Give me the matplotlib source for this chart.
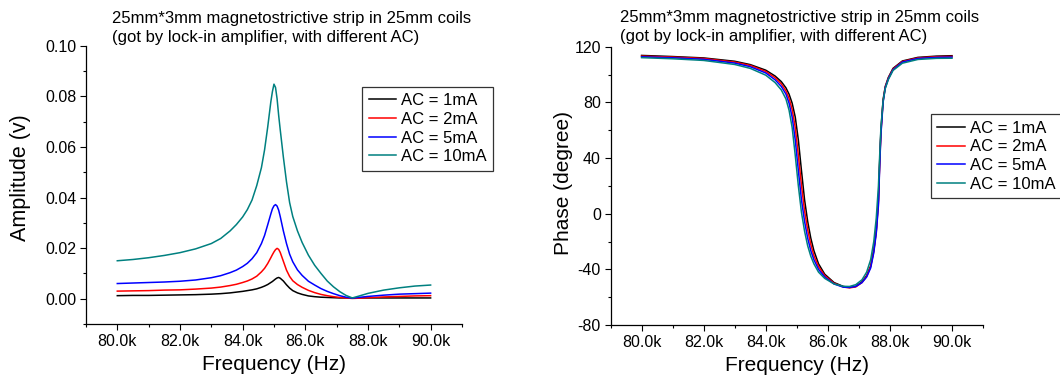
import numpy as np
import matplotlib
matplotlib.use("Agg")
import matplotlib.pyplot as plt
from matplotlib.ticker import MultipleLocator, FuncFormatter

plt.rcParams['font.family'] = ['Liberation Sans', 'DejaVu Sans']

# frequency in kHz
amp_freq = [80.0, 80.5, 81.0, 81.5, 82.0, 82.5, 83.0, 83.3, 83.6, 83.8, 84.0, 84.15,
            84.3, 84.45, 84.6, 84.7, 84.8, 84.9, 84.95, 85.0, 85.05, 85.1, 85.15,
            85.2, 85.3, 85.4, 85.5, 85.6, 85.75, 85.9, 86.1, 86.3, 86.5, 86.7,
            86.9, 87.1, 87.3, 87.5, 87.7, 88.0, 88.5, 89.0, 89.5, 90.0]

amp_1mA = [0.0012, 0.0013, 0.0013, 0.0014, 0.0015, 0.0016, 0.0018, 0.0020, 0.0023,
           0.0026, 0.0029, 0.0032, 0.0035, 0.0039, 0.0045, 0.0050, 0.0056, 0.0064,
           0.0068, 0.0073, 0.0078, 0.0082, 0.0084, 0.0081, 0.0070, 0.0055, 0.0042,
           0.0032, 0.0023, 0.0017, 0.0011, 0.0008, 0.0006, 0.0005, 0.0004, 0.0003,
           0.0003, 0.0003, 0.0003, 0.0003, 0.0003, 0.0003, 0.0003, 0.0003]
amp_2mA = [0.0030, 0.0031, 0.0032, 0.0034, 0.0035, 0.0038, 0.0042, 0.0046, 0.0052,
           0.0057, 0.0064, 0.0070, 0.0078, 0.0089, 0.0106, 0.0120, 0.0139, 0.0162,
           0.0174, 0.0185, 0.0194, 0.0199, 0.0195, 0.0183, 0.0148, 0.0113, 0.0088,
           0.0071, 0.0056, 0.0045, 0.0033, 0.0024, 0.0017, 0.0012, 0.0008, 0.0005,
           0.0003, 0.0001, 0.0002, 0.0004, 0.0007, 0.0009, 0.0011, 0.0012]
amp_5mA = [0.0060, 0.0062, 0.0064, 0.0066, 0.0069, 0.0074, 0.0083, 0.0091, 0.0103,
           0.0113, 0.0127, 0.0140, 0.0158, 0.0182, 0.0218, 0.0250, 0.0292, 0.0335,
           0.0355, 0.0367, 0.0372, 0.0366, 0.0350, 0.0325, 0.0268, 0.0218, 0.0176,
           0.0146, 0.0114, 0.0092, 0.0069, 0.0054, 0.0040, 0.0029, 0.0020, 0.0012,
           0.0006, 0.0002, 0.0005, 0.0009, 0.0014, 0.0018, 0.0020, 0.0022]
amp_10mA = [0.0150, 0.0155, 0.0162, 0.0171, 0.0182, 0.0197, 0.0218, 0.0238, 0.0268,
            0.0293, 0.0323, 0.0352, 0.0390, 0.0447, 0.0518, 0.0588, 0.0678, 0.0778,
            0.0818, 0.0848, 0.0835, 0.0790, 0.0725, 0.0668, 0.0560, 0.0462, 0.0380,
            0.0325, 0.0268, 0.0222, 0.0172, 0.0132, 0.0100, 0.0070, 0.0047, 0.0028,
            0.0013, 0.0003, 0.0010, 0.0021, 0.0034, 0.0043, 0.0050, 0.0054]

phase_freq = [80.0, 81.0, 82.0, 83.0, 83.5, 84.0, 84.3, 84.5, 84.65, 84.75, 84.85, 84.95,
              85.05, 85.15, 85.25, 85.35, 85.45, 85.55, 85.7, 85.9, 86.2, 86.5, 86.7,
              86.9, 87.1, 87.25, 87.38, 87.48, 87.56, 87.63, 87.67, 87.71, 87.78,
              87.85, 87.95, 88.1, 88.4, 88.9, 89.5, 90.0]

phase_1mA = [113.8, 113.0, 112.0, 109.6, 107.2, 103.2, 99.0, 95.0, 90.5, 86.0, 79.5, 69.5,
             53.0, 31.0, 10.0, -5.5, -17.5, -26.5, -36.0, -43.5, -49.5, -52.3, -53.0,
             -52.2, -49.0, -44.5, -37.5, -26.0, -12.0, 10.0, 38.0, 60.0, 82.0, 91.5,
             98.0, 104.5, 109.8, 112.4, 113.3, 113.6]
phase_2mA = [113.3, 112.6, 111.6, 109.0, 106.6, 102.3, 97.8, 93.4, 88.3, 83.0, 75.0, 62.0,
             42.0, 20.5, 2.0, -11.5, -22.0, -30.0, -38.0, -44.5, -50.0, -52.7, -53.3,
             -52.6, -49.5, -45.0, -38.0, -27.0, -13.0, 8.0, 36.0, 58.0, 81.0, 91.0,
             97.5, 104.0, 109.4, 112.0, 112.9, 113.1]
phase_5mA = [112.8, 112.1, 111.0, 108.3, 105.7, 101.2, 96.3, 91.5, 86.0, 79.5, 69.5, 53.0,
             31.0, 10.0, -5.5, -17.5, -26.5, -33.0, -40.0, -45.5, -50.5, -52.8, -53.0,
             -52.3, -49.5, -45.5, -39.0, -28.0, -14.0, 6.0, 34.0, 57.0, 80.0, 90.5,
             97.0, 103.5, 109.0, 111.6, 112.4, 112.6]
phase_10mA = [112.2, 111.4, 110.2, 107.3, 104.5, 99.6, 94.3, 89.0, 82.5, 74.5, 62.0, 42.0,
              20.0, 1.0, -12.5, -23.0, -30.5, -36.0, -42.0, -46.5, -50.5, -52.2, -52.3,
              -51.0, -47.5, -42.0, -33.0, -20.0, -3.0, 20.0, 42.0, 62.0, 81.0, 90.0,
              96.5, 103.0, 108.2, 110.9, 111.7, 111.8]

labels = ['AC = 1mA', 'AC = 2mA', 'AC = 5mA', 'AC = 10mA']
colors = ['#000000', '#ff0000', '#0000ff', '#008080']

title = "25mm*3mm magnetostrictive strip in 25mm coils\n(got by lock-in amplifier, with different AC)"

fig = plt.figure(figsize=(10.6, 3.79), dpi=100)
ax_amp = fig.add_axes([0.0811, 0.1451, 0.3547, 0.7343])
ax_ph = fig.add_axes([0.5760, 0.1425, 0.3514, 0.7340])

freq_a = np.array(amp_freq) * 1000
freq_p = np.array(phase_freq) * 1000
for y, c, lab in zip([amp_1mA, amp_2mA, amp_5mA, amp_10mA], colors, labels):
    ax_amp.plot(freq_a, y, color=c, lw=1.1, label=lab)
for y, c, lab in zip([phase_1mA, phase_2mA, phase_5mA, phase_10mA], colors, labels):
    ax_ph.plot(freq_p, y, color=c, lw=1.1, label=lab)

kfmt = FuncFormatter(lambda v, pos: "%.1fk" % (v / 1000))

for ax in (ax_amp, ax_ph):
    ax.spines['top'].set_visible(False)
    ax.spines['right'].set_visible(False)
    ax.spines['left'].set_linewidth(0.9)
    ax.spines['bottom'].set_linewidth(0.9)
    ax.set_xlim(79000, 91000)
    ax.xaxis.set_major_locator(MultipleLocator(2000))
    ax.xaxis.set_minor_locator(MultipleLocator(1000))
    ax.xaxis.set_major_formatter(kfmt)
    ax.tick_params(which='major', direction='out', length=4, width=0.8,
                   labelsize=11.5, pad=3)
    ax.tick_params(which='minor', direction='out', length=2.2, width=0.8)
    ax.set_xlabel("Frequency (Hz)", fontsize=15)
    ax.xaxis.set_label_coords(0.5, -0.112)

ax_amp.set_ylim(-0.01, 0.10)
ax_amp.yaxis.set_major_locator(MultipleLocator(0.02))
ax_amp.yaxis.set_minor_locator(MultipleLocator(0.01))
ax_amp.yaxis.set_major_formatter(FuncFormatter(lambda v, pos: "%.2f" % v))
ax_amp.set_ylabel("Amplitude (v)", fontsize=15.5)
ax_amp.yaxis.set_label_coords(-0.146, 0.526)

ax_ph.set_ylim(-80, 120)
ax_ph.yaxis.set_major_locator(MultipleLocator(40))
ax_ph.yaxis.set_minor_locator(MultipleLocator(20))
ax_ph.yaxis.set_major_formatter(FuncFormatter(lambda v, pos: "%d" % v))
ax_ph.set_ylabel("Phase (degree)", fontsize=15)
ax_ph.yaxis.set_label_coords(-0.1, 0.51)

fig.text(111.6 / 1060, 1 - 11 / 379, title, ha='left', va='top', fontsize=12,
         linespacing=1.32)
fig.text(619.8 / 1060, 1 - 10 / 379, title, ha='left', va='top', fontsize=12,
         linespacing=1.32)

leg_kw = dict(fontsize=12, frameon=True, fancybox=False, loc='upper left',
              handlelength=1.65, handletextpad=0.3, borderpad=0.4,
              labelspacing=0.22, borderaxespad=0, bbox_transform=fig.transFigure)
leg1 = ax_amp.legend(bbox_to_anchor=(361.9 / 1060, 1 - 86.5 / 379), **leg_kw)
leg2 = ax_ph.legend(bbox_to_anchor=(930.7 / 1060, 1 - 114 / 379), **leg_kw)
for leg in (leg1, leg2):
    leg.get_frame().set_edgecolor('#000000')
    leg.get_frame().set_linewidth(0.9)

fig.savefig("out.png", dpi=100)
